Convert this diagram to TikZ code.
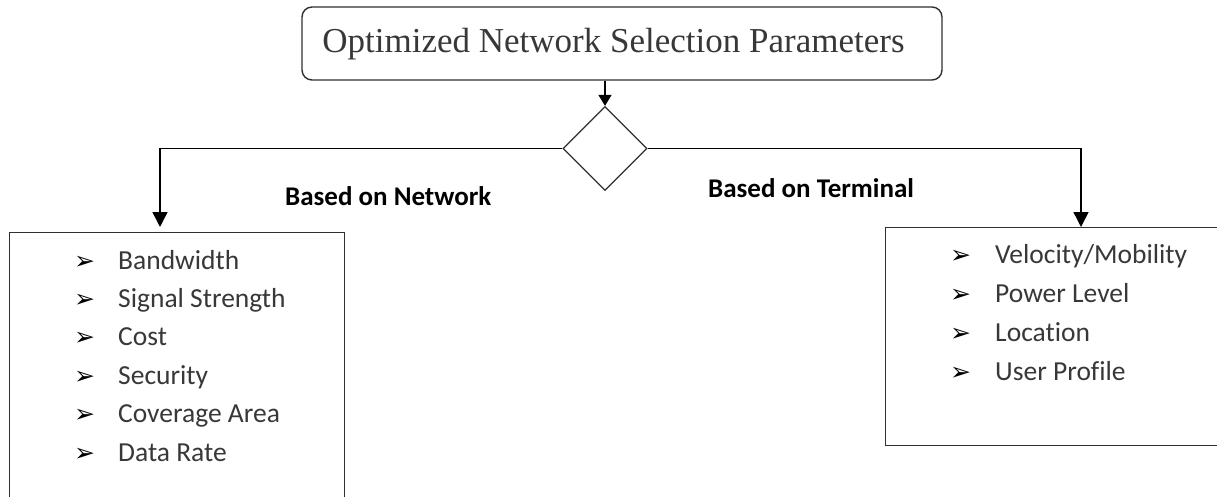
\documentclass[tikz,border=0pt]{standalone}
\usepackage{fontspec}
\setmainfont{Liberation Serif}
\newfontfamily\carlitofont[Ligatures=NoCommon]{Carlito}
\newfontfamily\dejavufont{DejaVu Sans}
\usetikzlibrary{shapes.geometric,arrows.meta}
\definecolor{linec}{HTML}{303030}
\definecolor{textc}{HTML}{383838}
\begin{document}
\begin{tikzpicture}[x=1pt,y=-1pt,
  boxline/.style={draw=linec,line width=1.4pt},
  conn/.style={draw=black,line width=1.5pt},
  arr/.style={conn,-{Triangle[width=15pt,length=15pt]}},
  item/.style={anchor=base west,inner sep=0,font=\carlitofont\fontsize{27.5}{30}\selectfont,text=textc},
  bul/.style={anchor=base west,inner sep=0,font=\dejavufont\fontsize{25}{28}\selectfont,text=black},
  lbl/.style={anchor=base west,inner sep=0,font=\carlitofont\bfseries\fontsize{27}{30}\selectfont,text=black}]
\useasboundingbox (0,0) rectangle (1217,497);
\fill[white] (0,0) rectangle (1217,497);
% title
\node[boxline,rounded corners=10pt,minimum width=640pt,minimum height=73pt,inner sep=0] (title) at (622,43.5) {};
\node[inner sep=0,anchor=base,font=\fontsize{35}{40}\selectfont,text=textc] (titletext) at (613.5,53) {Optimized Network Selection Parameters};
% decision
\node[draw=linec,line width=1.3pt,diamond,minimum width=84pt,minimum height=84pt,inner sep=0] (dec) at (605,148.5) {};
% boxes
\node[boxline,rectangle,minimum width=335pt,minimum height=300pt,inner sep=0,anchor=north west] (lb) at (9,232) {};
\node[boxline,rectangle,minimum width=345pt,minimum height=218pt,inner sep=0,anchor=north west] (rb) at (885,227) {};
% connectors
\coordinate (lt) at (160,227);
\coordinate (rt) at (1081,227);
\draw[conn,-{Triangle[width=13pt,length=11pt]}] (title.south -| dec.north) -- (dec.north);
\draw[arr] (dec.west) -| (lt);
\draw[arr] (dec.east) -| (rt);
% labels
\node[lbl] (ln) at (285,205) {Based on Network};
\node[lbl] (lt2) at (708,197) {Based on Terminal};
% left list
\foreach \t [count=\i] in {Bandwidth,Signal Strength,Cost,Security,Coverage Area,Data Rate}{
  \node[bul] (lbul\i) at (74,{269+38.4*(\i-1)}) {➢};
  \node[item] (litem\i) at (118,{269+38.4*(\i-1)}) {\t};
}
% right list
\foreach \t [count=\i] in {Velocity/Mobility,Power Level,Location,User Profile}{
  \node[bul] (rbul\i) at (950,{263+39*(\i-1)}) {➢};
  \node[item] (ritem\i) at (995,{263+39*(\i-1)}) {\t};
}
\end{tikzpicture}
\end{document}
